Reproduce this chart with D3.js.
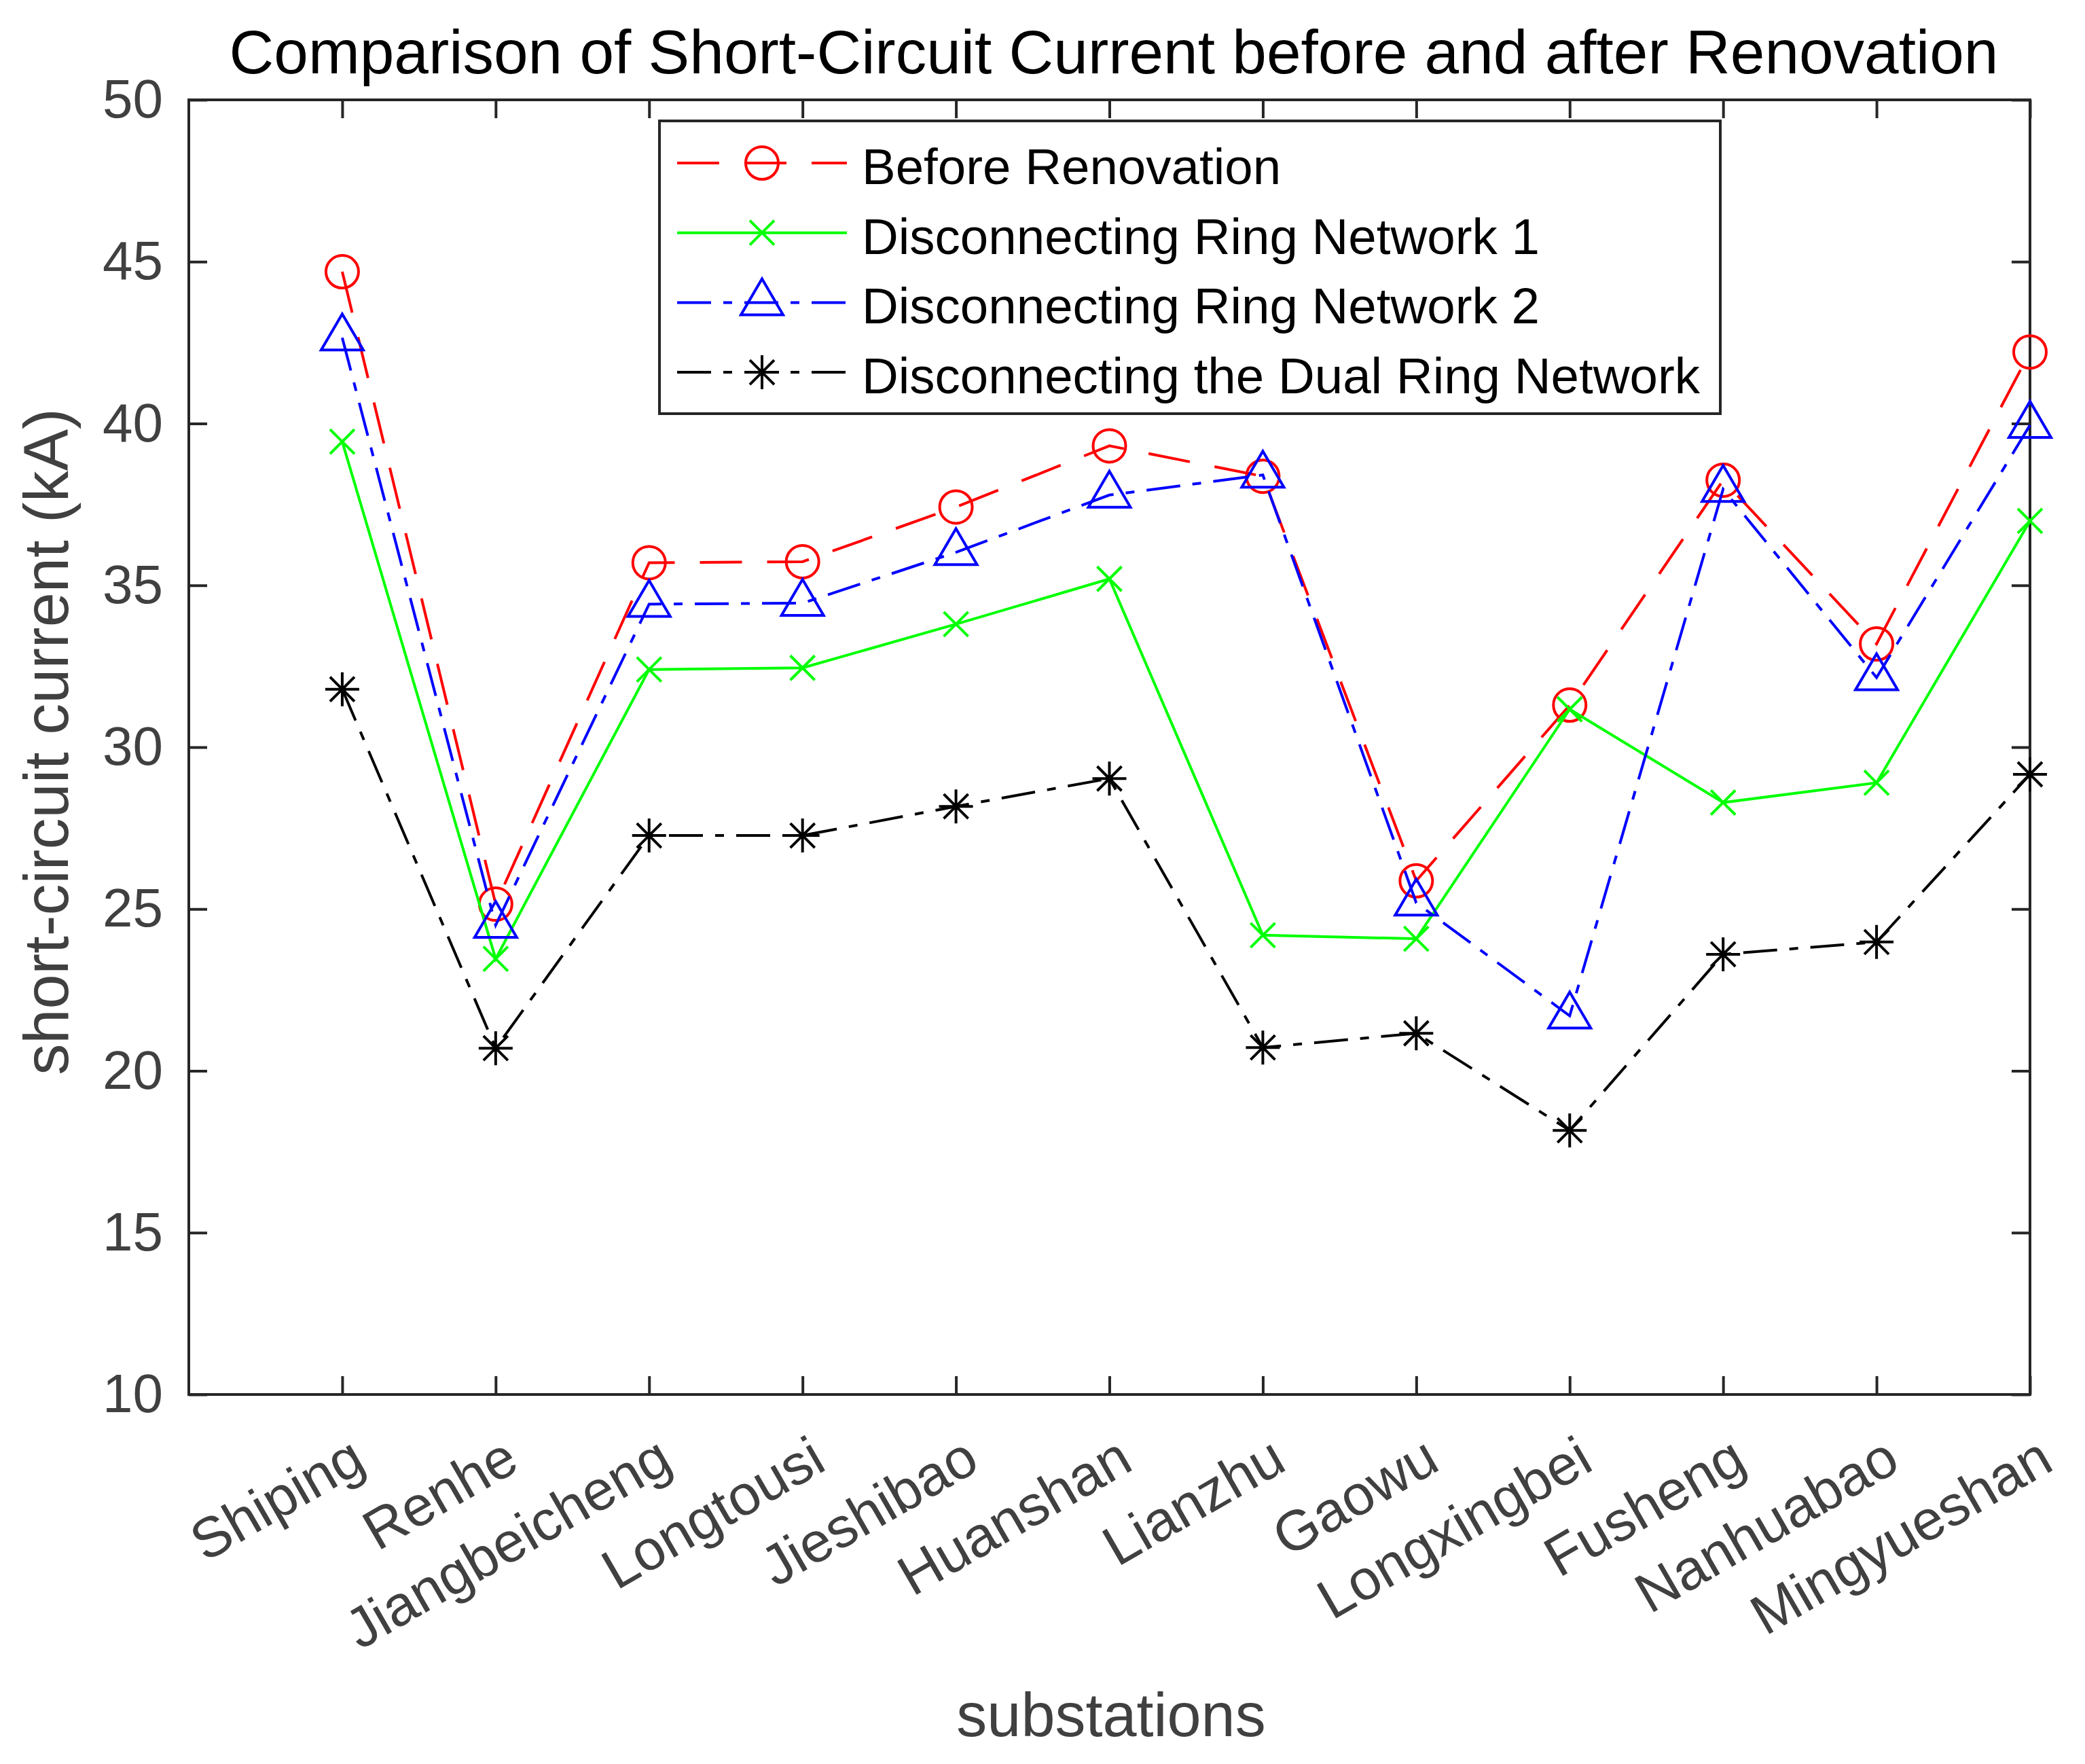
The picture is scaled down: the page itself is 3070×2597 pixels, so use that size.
<!DOCTYPE html>
<html>
<head>
<meta charset="utf-8">
<script src="https://cdn.jsdelivr.net/npm/d3@7"></script>
<style>
  body { margin: 0; background: #fff; }
  text { font-family: "Liberation Sans", Arial, Helvetica, sans-serif; }
</style>
</head>
<body>
<svg width="3070" height="2597"></svg>
<script>
const substations = ["Shiping", "Renhe", "Jiangbeicheng", "Longtousi", "Jieshibao", "Huanshan",
  "Lianzhu", "Gaowu", "Longxingbei", "Fusheng", "Nanhuabao", "Mingyueshan"];

const beforeRenovation = [44.69, 25.15, 35.70, 35.73, 37.42, 39.31, 38.37, 25.87, 31.30, 38.25, 33.19, 42.21];
const ringNetwork1     = [39.44, 23.46, 32.40, 32.45, 33.80, 35.20, 24.19, 24.08, 31.17, 28.29, 28.90, 36.99];
const ringNetwork2     = [42.65, 24.50, 34.42, 34.45, 36.02, 37.79, 38.41, 25.19, 21.70, 37.97, 32.15, 39.95];
const dualRingNetwork  = [31.79, 20.70, 27.27, 27.27, 28.17, 29.03, 20.72, 21.16, 18.16, 23.60, 23.98, 29.16];

const yTicks = [10, 15, 20, 25, 30, 35, 40, 45, 50];

const series = [
  { name: "Before Renovation", values: beforeRenovation, color: "#ff0000", dash: "62,37", marker: "circle" },
  { name: "Disconnecting Ring Network 1", values: ringNetwork1, color: "#00ff00", dash: null, marker: "x" },
  { name: "Disconnecting Ring Network 2", values: ringNetwork2, color: "#0000ff", dash: "50,18,13,18", marker: "triangle" },
  { name: "Disconnecting the Dual Ring Network", values: dualRingNetwork, color: "#000000", dash: "50,18,13,18", marker: "star" }
];

const svg = d3.select("svg");
svg.append("rect").attr("width", 3070).attr("height", 2597).attr("fill", "#fff");

const plotL = 278, plotR = 2989, plotT = 147, plotB = 2053;
const axisColor = "#262626", labelColor = "#404040";

const x = d3.scaleLinear().domain([0, 12]).range([plotL, plotR]);
const y = d3.scaleLinear().domain([10, 50]).range([plotB, plotT]);

// marker path generators
function markerPath(type) {
  switch (type) {
    case "circle": return "M-24,0A24,24 0 1,0 24,0A24,24 0 1,0 -24,0Z";
    case "x": return "M-18,-18L18,18M-18,18L18,-18";
    case "triangle": return "M0,-35L31,18L-31,18Z";
    case "star": return "M-25,0L25,0M0,-25L0,25M-18,-18L18,18M-18,18L18,-18";
  }
}

// axes
function styleAxis(g) {
  g.select(".domain").remove();
  g.selectAll(".tick line").attr("stroke", axisColor).attr("stroke-width", 4);
  g.selectAll("text").attr("fill", labelColor).style("font-size", "80px")
    .style("font-family", "'Liberation Sans', Arial, sans-serif");
}

svg.append("g").attr("transform", `translate(${plotL},0)`)
  .call(d3.axisLeft(y).tickValues(yTicks).tickSize(-27).tickPadding(38))
  .call(styleAxis);

svg.append("g").attr("transform", `translate(${plotR},0)`)
  .call(d3.axisRight(y).tickValues(yTicks).tickSize(-27).tickFormat(""))
  .call(styleAxis);

svg.append("g").attr("transform", `translate(0,${plotT})`)
  .call(d3.axisTop(x).tickValues(d3.range(1, 13)).tickSize(-27).tickFormat(""))
  .call(styleAxis);

const xAxis = svg.append("g").attr("transform", `translate(0,${plotB})`)
  .call(d3.axisBottom(x).tickValues(d3.range(1, 13)).tickSize(-27).tickFormat(d => substations[d - 1]))
  .call(styleAxis);

xAxis.selectAll(".tick text")
  .style("font-size", "83px")
  .attr("text-anchor", "end")
  .attr("y", 0)
  .attr("dy", "0.71em")
  .attr("transform", "translate(8,58) rotate(-30)");

// frame
svg.append("rect")
  .attr("x", plotL).attr("y", plotT)
  .attr("width", plotR - plotL).attr("height", plotB - plotT)
  .attr("fill", "none").attr("stroke", axisColor).attr("stroke-width", 4);

// series
const line = d3.line().x((d, i) => x(i + 1)).y(d => y(d));

series.forEach(s => {
  svg.append("path")
    .datum(s.values)
    .attr("d", line)
    .attr("fill", "none")
    .attr("stroke", s.color)
    .attr("stroke-width", 4)
    .attr("stroke-dasharray", s.dash);

  svg.selectAll(null)
    .data(s.values)
    .join("path")
    .attr("transform", (d, i) => `translate(${x(i + 1)},${y(d)})`)
    .attr("d", markerPath(s.marker))
    .attr("fill", "none")
    .attr("stroke", s.color)
    .attr("stroke-width", 4);
});

// legend
const legend = svg.append("g");
legend.append("rect")
  .attr("x", 971).attr("y", 178).attr("width", 1562).attr("height", 431)
  .attr("fill", "#fff").attr("stroke", axisColor).attr("stroke-width", 4);

const item = legend.selectAll(".item")
  .data(series)
  .join("g")
  .attr("class", "item")
  .attr("transform", (d, i) => `translate(0,${240 + i * 102.7})`);

item.append("line")
  .attr("x1", 997).attr("x2", 1247)
  .attr("stroke", d => d.color).attr("stroke-width", 4)
  .attr("stroke-dasharray", d => d.dash);

item.append("path")
  .attr("transform", "translate(1122,0)")
  .attr("d", d => markerPath(d.marker))
  .attr("fill", "none").attr("stroke", d => d.color).attr("stroke-width", 4);

item.append("text")
  .attr("x", 1269).attr("y", 5).attr("dy", "0.35em")
  .style("font-size", "74.5px").attr("fill", "#000")
  .text(d => d.name);

// titles
svg.append("text")
  .attr("x", 1640).attr("y", 108)
  .attr("text-anchor", "middle")
  .style("font-size", "91px").attr("fill", "#000")
  .text("Comparison of Short-Circuit Current before and after Renovation");

svg.append("text")
  .attr("x", 1636).attr("y", 2556)
  .attr("text-anchor", "middle")
  .style("font-size", "90px").attr("fill", labelColor)
  .text("substations");

svg.append("text")
  .attr("transform", `translate(100,${(plotT + plotB) / 2 - 8}) rotate(-90)`)
  .attr("text-anchor", "middle")
  .style("font-size", "92px").attr("fill", labelColor)
  .text("short-circuit current (kA)");
</script>
</body>
</html>
